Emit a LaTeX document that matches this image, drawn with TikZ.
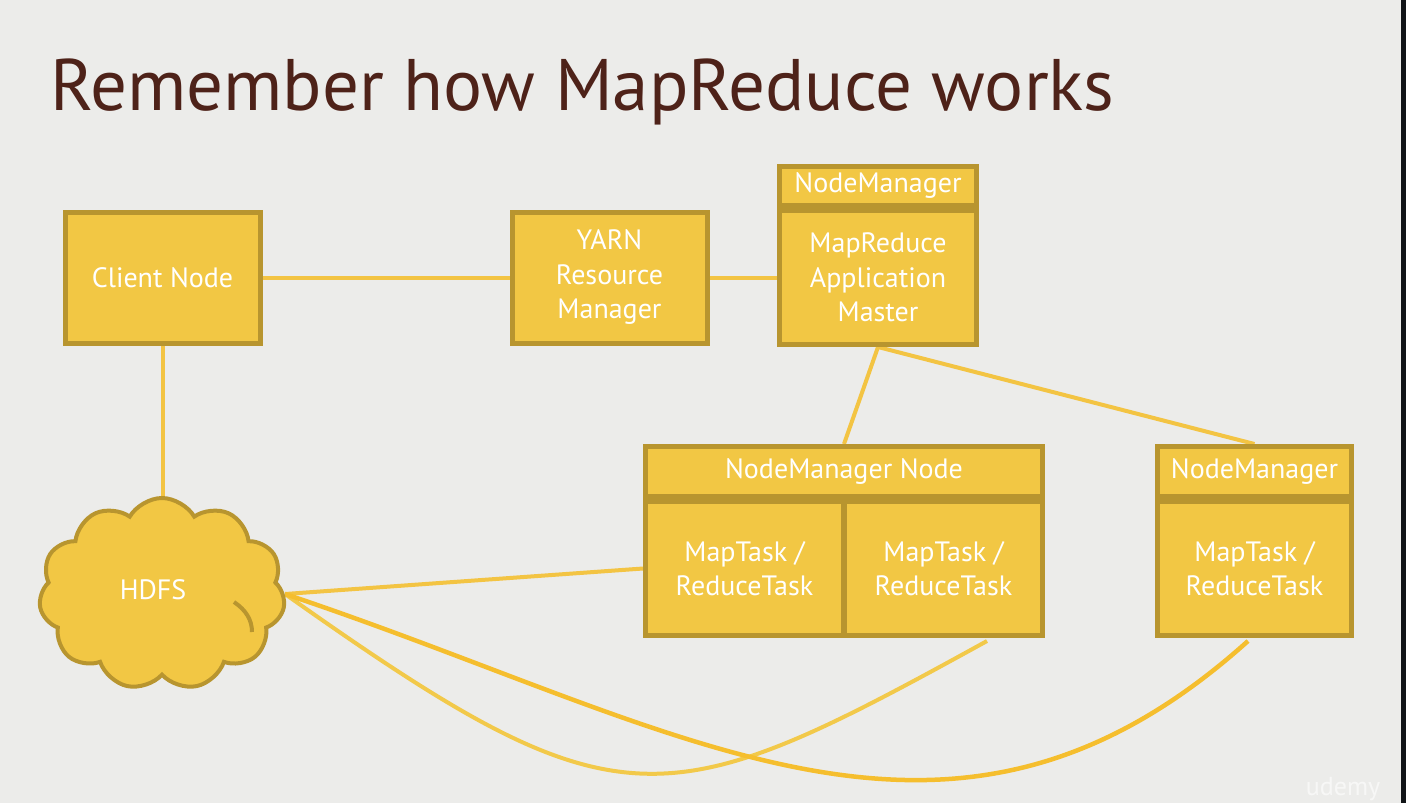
\documentclass[tikz,border=0pt]{standalone}
\usepackage{fontspec}
\setmainfont{PT Sans}
\usetikzlibrary{shapes.symbols}
\definecolor{bg}{HTML}{ECECEA}
\definecolor{boxfill}{HTML}{F2C744}
\definecolor{boxline}{HTML}{B8952F}
\definecolor{linecol}{HTML}{F3C443}
\definecolor{lineA}{HTML}{F2C94A}
\definecolor{lineB}{HTML}{F5BE2E}
\definecolor{titlecol}{HTML}{4E2219}
\definecolor{strip}{HTML}{111417}
\pgfdeclarelayer{bgl}\pgfdeclarelayer{lines}\pgfsetlayers{bgl,lines,main}
\begin{document}
\begin{tikzpicture}[x=1pt,y=-1pt,
  box/.style={draw=boxline, fill=boxfill, line width=5pt, text=white,
    font=\fontsize{28}{34.5}\selectfont, align=center, inner sep=0pt},
  conn/.style={draw=linecol, line width=4pt},
  connA/.style={draw=lineA, line width=4pt},
  connB/.style={draw=lineB, line width=4.5pt}]
\begin{pgfonlayer}{bgl}
\fill[bg] (0,0) rectangle (1406,803);
\fill[strip] (1401,0) rectangle (1406,803);
\end{pgfonlayer}
\useasboundingbox (0,0) rectangle (1406,803);

\node[text=titlecol, anchor=base west, inner sep=0pt, font=\fontsize{73}{80}\selectfont] (title) at (50,110) {Remember how MapReduce works};

\node[box, minimum width=195pt, minimum height=131pt] (client) at (162.5,277.5) {Client Node};
\node[box, minimum width=195pt, minimum height=131pt] (yarn) at (609.5,277.5) {YARN\\Resource\\Manager};

\node[box, minimum width=197pt, minimum height=39pt] (nmthead) at (878,186) {NodeManager};
\node[box, minimum width=197pt, minimum height=134pt] (nmtbody) at (878,277.5) {MapReduce\\Application\\Master};

\node[box, minimum width=397pt, minimum height=50pt] (nmnhead) at (844,471.5) {NodeManager Node};
\node[box, minimum width=198pt, minimum height=134pt] (cell1) at (744.5,568.5) {MapTask /\\ReduceTask};
\node[box, minimum width=198pt, minimum height=134pt] (cell2) at (943.5,568.5) {MapTask /\\ReduceTask};

\node[box, minimum width=194pt, minimum height=50pt] (nmrhead) at (1254.5,471.5) {NodeManager};
\node[box, minimum width=194pt, minimum height=134pt] (nmrbody) at (1254.5,568.5) {MapTask /\\ReduceTask};

\node[cloud, cloud puffs=11, cloud puff arc=120, aspect=1.3, draw=boxline, fill=boxfill, line width=4pt,
  minimum width=246pt, minimum height=192pt, inner sep=0pt] (hdfs) at (162,594) {};
\node[text=white, font=\fontsize{28}{30}\selectfont, inner sep=0pt] (hdfslabel) at (153,590) {HDFS};
\draw[boxline, line width=4pt] (234,602) .. controls (246,610) and (252,620) .. (252,632);

\coordinate (endA) at (987,641);
\coordinate (endB) at (1248,641);

\begin{pgfonlayer}{lines}
\draw[conn] (client.south) -- (client.south |- hdfs.center);
\draw[conn] (client.east) -- (yarn.west);
\draw[conn] (yarn.east) -- (nmtbody.west);
\draw[conn] (nmtbody.south) -- (nmnhead.north);
\draw[conn] (nmtbody.south) -- (nmrhead.north);
\draw[conn] (hdfs.east) -- (cell1.west);
\draw[connA] (hdfs.east) .. controls (620,831) and (662,820) .. (endA);
\draw[connB] (hdfs.east) .. controls (686,728) and (948,911) .. (endB);
\end{pgfonlayer}

\node[text=white, opacity=0.6, anchor=base, inner sep=0pt, font=\fontsize{26}{26}\selectfont] (udemy) at (1343,795) {udemy};
\end{tikzpicture}
\end{document}
